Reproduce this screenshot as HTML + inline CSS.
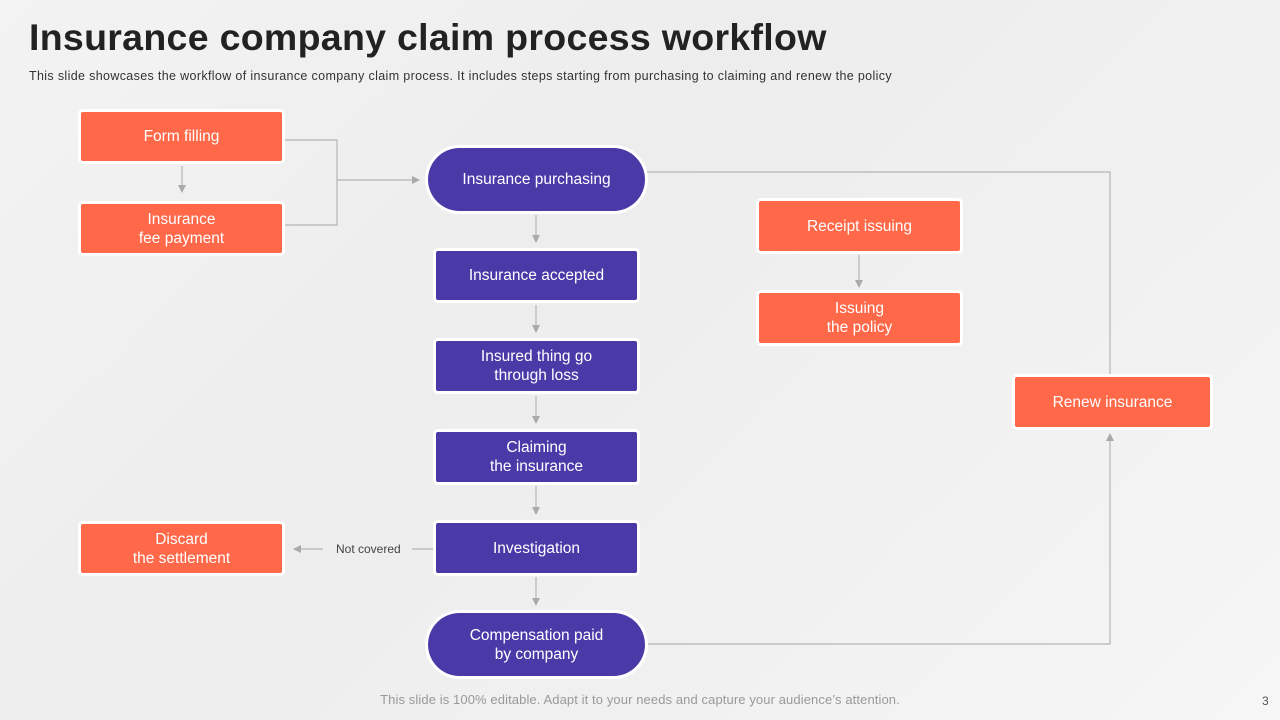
<!DOCTYPE html>
<html><head><meta charset="utf-8"><style>
body{margin:0;width:1280px;height:720px;overflow:hidden;font-family:"Liberation Sans",sans-serif;}
.bg{position:absolute;left:0;top:0;width:1280px;height:720px;background:linear-gradient(135deg,#f3f3f3 0%,#ededed 40%,#f1f1f1 70%,#f6f6f6 100%);}
.b{position:absolute;display:flex;align-items:center;justify-content:center;text-align:center;color:#fff;font-size:15.5px;line-height:19px;box-shadow:0 0 0 3px #fff;border-radius:2px;}
.o{background:#FF6849;}
.p{background:#4A3AA8;}
.pill{border-radius:32px;}
h1{position:absolute;left:29px;top:16px;margin:0;font-size:37.5px;font-weight:bold;color:#222;letter-spacing:0.3px;}
.sub{position:absolute;left:29px;top:69px;font-size:12.5px;letter-spacing:0.35px;color:#333;white-space:nowrap;}
.foot{position:absolute;left:0;width:1280px;top:692px;text-align:center;font-size:13px;letter-spacing:0.1px;color:#999;}
.num{position:absolute;left:1262px;top:694px;font-size:12px;color:#555;}
</style></head><body>
<div class="bg"></div>
<svg style="position:absolute;left:0;top:0" width="1280" height="720">
<defs><marker id="a" markerWidth="8" markerHeight="8" refX="7" refY="4" orient="auto" markerUnits="userSpaceOnUse"><path d="M0,0 L8,4 L0,8 z" fill="#aaa"/></marker></defs>
<g stroke="#b5b5b5" stroke-width="1.2" fill="none">
<polyline points="284,140 337,140 337,225 284,225"/>
<line x1="337" y1="180" x2="419" y2="180" marker-end="url(#a)"/>
<line x1="182" y1="166" x2="182" y2="192" marker-end="url(#a)"/>
<polyline points="647,172 1110,172 1110,375"/>
<polyline points="647,644 1110,644 1110,434" marker-end="url(#a)"/>
<line x1="859" y1="255" x2="859" y2="287" marker-end="url(#a)"/>
<line x1="536" y1="215" x2="536" y2="242" marker-end="url(#a)"/>
<line x1="536" y1="305" x2="536" y2="332" marker-end="url(#a)"/>
<line x1="536" y1="396" x2="536" y2="423" marker-end="url(#a)"/>
<line x1="536" y1="486" x2="536" y2="514" marker-end="url(#a)"/>
<line x1="536" y1="577" x2="536" y2="605" marker-end="url(#a)"/>
<line x1="434" y1="549" x2="412" y2="549"/>
<line x1="323" y1="549" x2="294" y2="549" marker-end="url(#a)"/>
</g>
<text x="336" y="553" font-family="Liberation Sans" font-size="12" fill="#444">Not covered</text>
</svg>
<h1>Insurance company claim process workflow</h1>
<div class="sub">This slide showcases the workflow of insurance company claim process. It includes steps starting from purchasing to claiming and renew the policy</div>
<div class="b o" style="left:81px;top:112px;width:201px;height:49px">Form filling</div>
<div class="b o" style="left:81px;top:204px;width:201px;height:49px">Insurance<br>fee payment</div>
<div class="b p pill" style="left:428px;top:148px;width:217px;height:63px">Insurance purchasing</div>
<div class="b p" style="left:436px;top:251px;width:201px;height:49px">Insurance accepted</div>
<div class="b p" style="left:436px;top:341px;width:201px;height:50px">Insured thing go<br>through loss</div>
<div class="b p" style="left:436px;top:432px;width:201px;height:50px">Claiming<br>the insurance</div>
<div class="b p" style="left:436px;top:523px;width:201px;height:50px">Investigation</div>
<div class="b p pill" style="left:428px;top:613px;width:217px;height:63px">Compensation paid<br>by company</div>
<div class="b o" style="left:81px;top:524px;width:201px;height:49px">Discard<br>the settlement</div>
<div class="b o" style="left:759px;top:201px;width:201px;height:50px">Receipt issuing</div>
<div class="b o" style="left:759px;top:293px;width:201px;height:50px">Issuing<br>the policy</div>
<div class="b o" style="left:1015px;top:377px;width:195px;height:50px">Renew insurance</div>
<div class="foot">This slide is 100% editable. Adapt it to your needs and capture your audience’s attention.</div>
<div class="num">3</div>
</body></html>
